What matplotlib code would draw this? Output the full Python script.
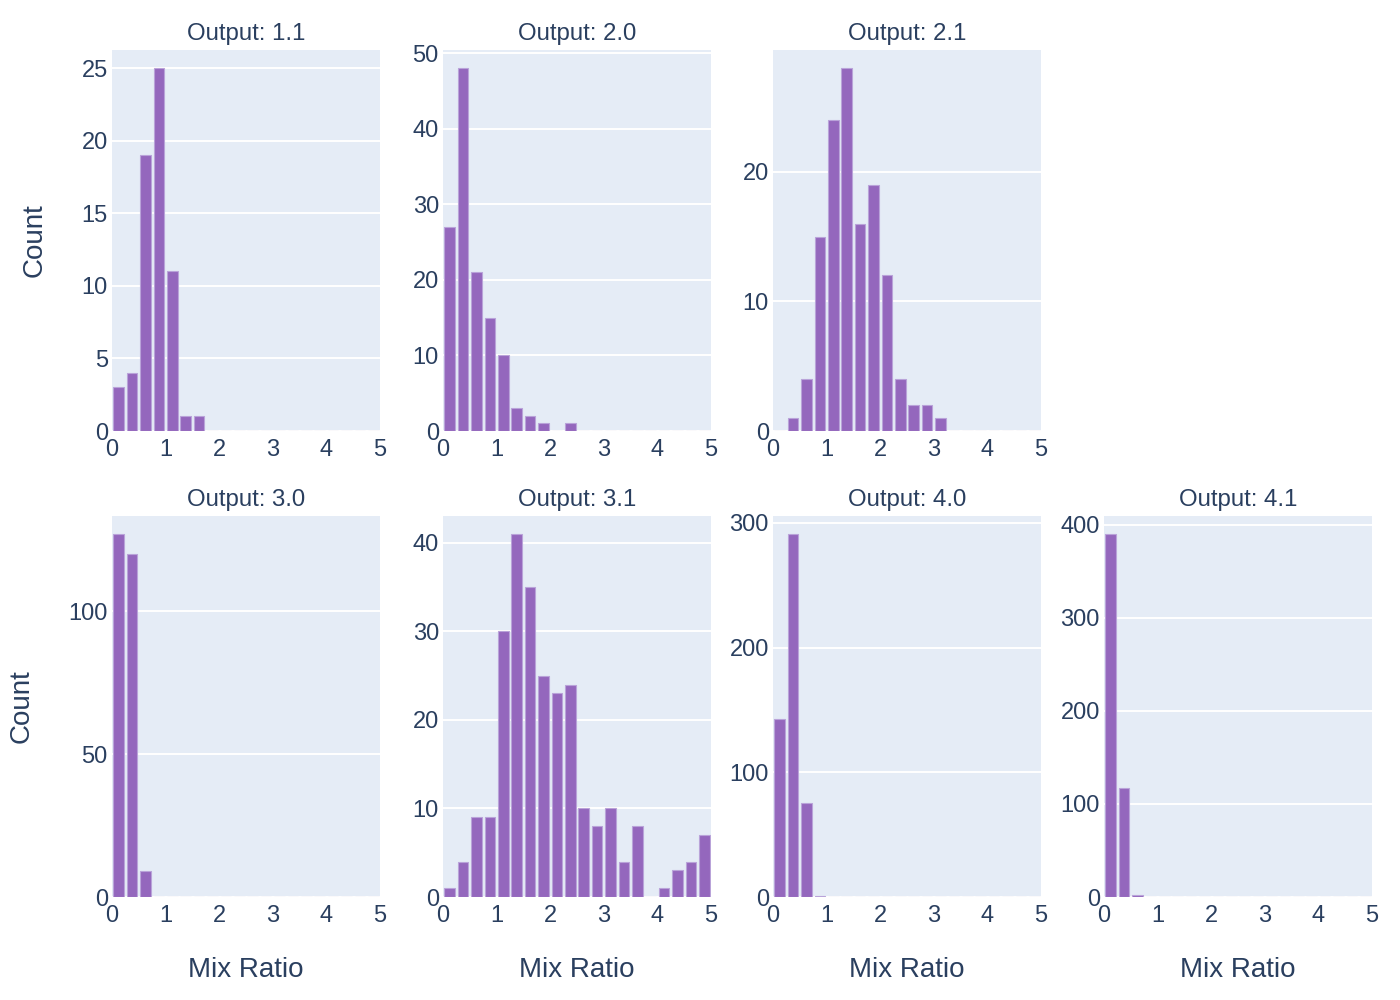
import numpy as np
import matplotlib
matplotlib.use("Agg")
import matplotlib.pyplot as plt

plt.rcParams['font.family'] = ['Liberation Sans', 'DejaVu Sans']

# histogram bins (Mix Ratio), width 0.25 from 0 to 5
bin_edges = np.arange(0, 5.01, 0.25)

outputs = ["1.1", "2.0", "2.1", "3.0", "3.1", "4.0", "4.1"]
counts_11 = [3, 4, 19, 25, 11, 1, 1, 0, 0, 0, 0, 0, 0, 0, 0, 0, 0, 0, 0, 0]
counts_20 = [27, 48, 21, 15, 10, 3, 2, 1, 0, 1, 0, 0, 0, 0, 0, 0, 0, 0, 0, 0]
counts_21 = [0, 1, 4, 15, 24, 28, 16, 19, 12, 4, 2, 2, 1, 0, 0, 0, 0, 0, 0, 0]
counts_30 = [127, 120, 9, 0, 0, 0, 0, 0, 0, 0, 0, 0, 0, 0, 0, 0, 0, 0, 0, 0]
counts_31 = [1, 4, 9, 9, 30, 41, 35, 25, 23, 24, 10, 8, 10, 4, 8, 0, 1, 3, 4, 7]
counts_40 = [143, 291, 75, 1, 0, 0, 0, 0, 0, 0, 0, 0, 0, 0, 0, 0, 0, 0, 0, 0]
counts_41 = [390, 117, 2, 0, 0, 0, 0, 0, 0, 0, 0, 0, 0, 0, 0, 0, 0, 0, 0, 0]
all_counts = [counts_11, counts_20, counts_21, counts_30, counts_31, counts_40, counts_41]

x_ticks = [0, 1, 2, 3, 4, 5]
y_ticks = [
    [0, 5, 10, 15, 20, 25],
    [0, 10, 20, 30, 40, 50],
    [0, 10, 20],
    [0, 50, 100],
    [0, 10, 20, 30, 40],
    [0, 100, 200, 300],
    [0, 100, 200, 300, 400],
]

# (row, col) slot of each panel; top row has an empty 4th slot
slots = [(0, 0), (0, 1), (0, 2), (1, 0), (1, 1), (1, 2), (1, 3)]

text_color = '#2a3f5f'
bg_color = '#E5ECF6'
bar_color = '#9467bd'

W, H = 1400, 1000
fig = plt.figure(figsize=(14, 10), dpi=100)

col_left = [112, 443, 773, 1104]
ax_w = 268
row_top = [50, 516]
ax_h = 381

for name, counts, yt, (r, c) in zip(outputs, all_counts, y_ticks, slots):
    ax = fig.add_axes([col_left[c] / W, 1 - (row_top[r] + ax_h) / H, ax_w / W, ax_h / H])
    ax.set_facecolor(bg_color)
    widths = np.diff(bin_edges)
    ax.bar(bin_edges[:-1] + widths * 0.1, counts, width=widths * 0.8, align='edge',
           color=bar_color, edgecolor='#b9a3d9', linewidth=0.8, zorder=3)
    ax.set_xlim(0, 5)
    ax.set_ylim(0, max(counts) * 1.05)
    ax.set_xticks(x_ticks)
    ax.set_yticks(yt)
    ax.grid(axis='y', color='white', linewidth=1.4, zorder=0)
    ax.set_axisbelow(True)
    for s in ax.spines.values():
        s.set_visible(False)
    ax.tick_params(length=0, labelsize=17, labelcolor=text_color)
    ax.tick_params(axis='x', pad=6)
    ax.tick_params(axis='y', pad=3)
    ax.set_title(f"Output: {name}", fontsize=17.3, color=text_color, pad=7)
    if r == 1:
        fig.text((col_left[c] + ax_w / 2) / W, 1 - 970 / H, "Mix Ratio",
                 ha='center', va='center', fontsize=20, color=text_color)

fig.text(35 / W, 1 - 240 / H, "Count", rotation=90, ha='center', va='center',
         fontsize=20, color=text_color)
fig.text(22 / W, 1 - 706 / H, "Count", rotation=90, ha='center', va='center',
         fontsize=20, color=text_color)

fig.savefig("out.png", dpi=100, facecolor='white')
